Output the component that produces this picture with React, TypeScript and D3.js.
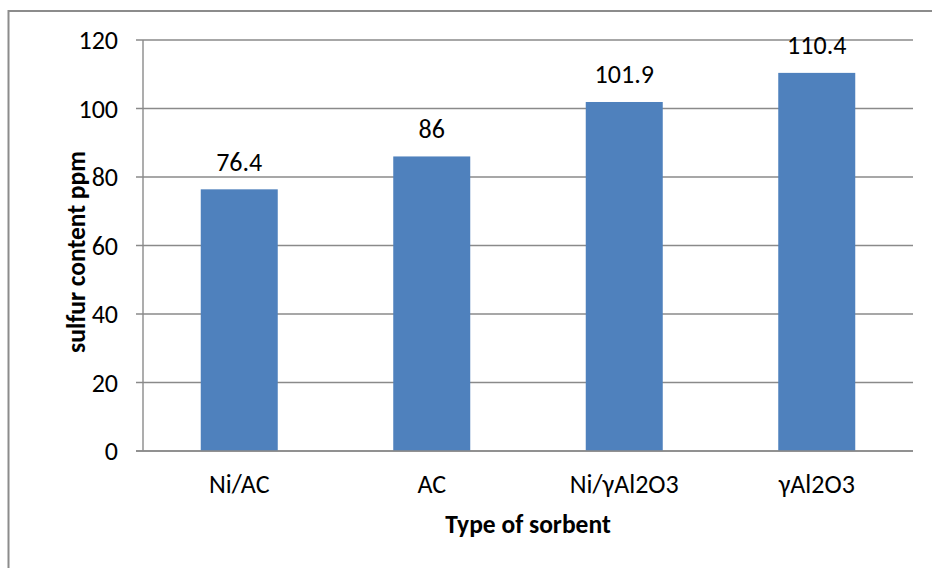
import React from "react";
import * as d3 from "d3";

const categories = ["Ni/AC", "AC", "Ni/γAl2O3", "γAl2O3"];
const sulfurValues = [76.4, 86, 101.9, 110.4];
const yTicks = [0, 20, 40, 60, 80, 100, 120];
const yAxisTitle = "sulfur content ppm";
const xAxisTitle = "Type of sorbent";

const W = 932;
const H = 568;
const plot = { left: 143, right: 913, top: 40, bottom: 451 };
const FONT = "Carlito, Calibri, 'Open Sans', sans-serif";
const GRID = "#8a8a8a";
const BAR = "#4F81BD";
const LABEL_SIZE = 26;
const TITLE_SIZE = 25.5;

export default function App() {
  const x = d3
    .scaleBand<string>()
    .domain(categories)
    .range([plot.left, plot.right])
    .paddingInner(0.6)
    .paddingOuter(0.3);
  const y = d3.scaleLinear().domain([0, 120]).range([plot.bottom, plot.top]);

  return (
    <svg
      width={W}
      height={H}
      style={{ position: "absolute", left: 0, top: 0, background: "#fff" }}
      fontFamily={FONT}
    >
      {/* chart frame */}
      <rect x={8.5} y={11} width={1000} height={1000} fill="#fff" stroke="#8c8c8c" strokeWidth={2} />

      {/* horizontal gridlines, tick marks and tick labels */}
      {yTicks.map((t) => (
        <g key={t}>
          <line
            x1={plot.left - 7}
            x2={plot.right}
            y1={y(t)}
            y2={y(t)}
            stroke={GRID}
            strokeWidth={1.4}
          />
          <text
            x={118}
            y={y(t)}
            textAnchor="end"
            dominantBaseline="central"
            fontSize={LABEL_SIZE}
            fill="#000"
          >
            {t}
          </text>
        </g>
      ))}

      {/* y axis line */}
      <line x1={plot.left} x2={plot.left} y1={plot.top} y2={plot.bottom} stroke={GRID} strokeWidth={1.4} />

      {/* bars with value labels and category names */}
      {categories.map((c, i) => (
        <g key={c}>
          <rect
            x={x(c)!}
            y={y(sulfurValues[i])}
            width={x.bandwidth()}
            height={y(0) - y(sulfurValues[i])}
            fill={BAR}
          />
          <text
            x={x(c)! + x.bandwidth() / 2}
            y={y(sulfurValues[i]) - 18.5}
            textAnchor="middle"
            fontSize={LABEL_SIZE}
            fill="#000"
          >
            {sulfurValues[i]}
          </text>
          <text
            x={x(c)! + x.bandwidth() / 2}
            y={493}
            textAnchor="middle"
            fontSize={LABEL_SIZE}
            fill="#000"
          >
            {c}
          </text>
        </g>
      ))}

      {/* baseline drawn above bars */}
      <line x1={plot.left - 7} x2={plot.right} y1={plot.bottom} y2={plot.bottom} stroke={GRID} strokeWidth={1.4} />

      {/* axis titles */}
      <text
        x={528}
        y={533}
        textAnchor="middle"
        fontSize={TITLE_SIZE}
        fontWeight="bold"
        fill="#000"
      >
        {xAxisTitle}
      </text>
      <text
        transform={`translate(85,252) rotate(-90)`}
        textAnchor="middle"
        fontSize={TITLE_SIZE}
        fontWeight="bold"
        fill="#000"
      >
        {yAxisTitle}
      </text>
    </svg>
  );
}
